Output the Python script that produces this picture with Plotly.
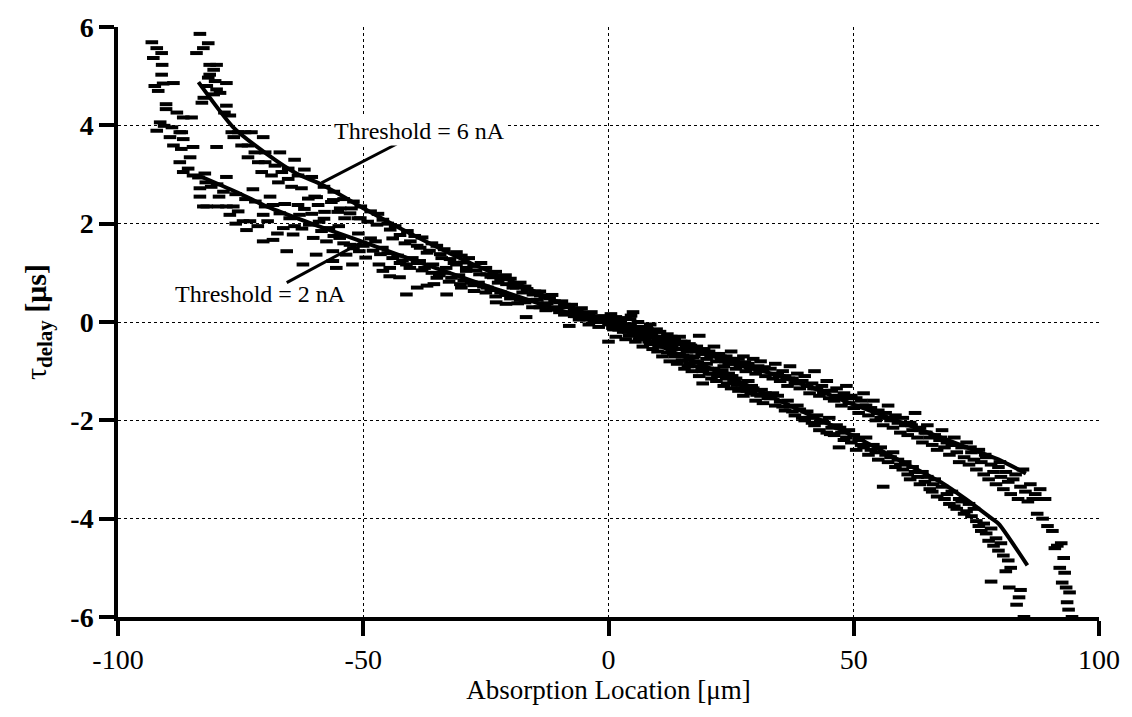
import plotly.graph_objects as go

# ---- fitted curves ----
line_6nA_x = [-83.6, -76.5, -69.7, -63.6, -58.2, -49.5, -41.2, -29.7, -16.1, -8.6, 0.0,
              13.0, 26.7, 32.8, 50.0, 60.0, 68.1, 72.8, 78.3, 79.6, 85.4]
line_6nA_y = [4.88, 3.96, 3.42, 3.02, 2.78, 2.29, 1.84, 1.27, 0.67, 0.33, 0.0,
              -0.6, -1.21, -1.5, -2.32, -2.85, -3.28, -3.6, -4.01, -4.11, -4.95]

line_2nA_x = [-83.6, -76.0, -69.7, -60.0, -49.5, -36.5, -22.9, -8.6, 0.0,
              13.0, 26.7, 40.0, 50.0, 60.0, 74.9, 80.0, 85.1]
line_2nA_y = [2.98, 2.65, 2.35, 1.98, 1.61, 1.14, 0.67, 0.2, 0.0,
              -0.4, -0.84, -1.28, -1.68, -2.05, -2.62, -2.82, -3.08]

# ---- measured points, threshold 6 nA (x [um], tau [us]) ----
points_6nA = [
    (-83.3, 5.86), (-81.6, 5.67), (-82.6, 5.57), (-84.0, 5.47), (-81.3, 5.23), (-79.9, 5.23),
    (-80.5, 5.13), (-81.3, 5.03), (-81.6, 4.97), (-80.2, 4.9), (-77.9, 4.86), (-81.9, 4.8),
    (-79.9, 4.73), (-80.5, 4.63), (-79.2, 4.66), (-82.5, 4.56), (-82.9, 4.46), (-77.9, 4.4),
    (-78.3, 4.26), (-77.2, 4.2), (-76.8, 3.86), (-76.4, 3.76), (-75.5, 3.86), (-74.1, 3.86),
    (-72.8, 3.86), (-70.4, 3.76), (-74.8, 3.59), (-73.5, 3.59), (-72.1, 3.45), (-70.0, 3.45),
    (-73.5, 3.35), (-71.4, 3.25), (-70.0, 3.25), (-68.0, 3.18), (-70.7, 3.05), (-68.7, 2.98),
    (-66.6, 3.05), (-65.3, 3.12), (-67.3, 2.84), (-65.3, 2.91), (-63.3, 2.98), (-64.6, 2.75),
    (-62.6, 2.72), (-61.2, 2.51), (-59.9, 2.55), (-63.3, 2.38), (-59.2, 2.38), (-56.5, 2.44),
    (-57.9, 2.24), (-55.2, 2.24), (-52.4, 2.31), (-53.8, 2.11), (-51.1, 2.11), (-49.1, 2.04),
    (-67.0, 3.45), (-64.0, 3.3), (-62.0, 3.1), (-60.5, 2.95), (-58.0, 2.75), (-56.0, 2.65),
    (-54.0, 2.5), (-52.0, 2.45), (-50.5, 2.35), (-48.5, 2.25), (-47.0, 2.2),
    (-59.5, 2.54), (-56.1, 2.48), (-54.7, 2.31), (-52.7, 2.21), (-50.6, 2.11), (-47.2, 1.98),
    (-44.5, 1.88), (-42.5, 1.77), (-40.4, 1.64), (-38.4, 1.51), (-37.0, 1.41), (-34.3, 1.38),
    (-32.3, 1.28), (-29.5, 1.21), (-27.5, 1.14), (-24.8, 0.97), (-22.0, 0.87), (-19.3, 0.77),
    (-16.6, 0.67), (-13.9, 0.54),
    (-46.0, 2.08), (-45.0, 2.0), (-43.5, 1.95), (-41.0, 1.85), (-39.5, 1.75), (-38.0, 1.72),
    (-36.0, 1.6), (-35.0, 1.55), (-33.5, 1.48), (-31.0, 1.42), (-30.0, 1.35), (-28.5, 1.3),
    (-26.0, 1.2), (-25.0, 1.1), (-23.0, 1.02), (-21.0, 0.95), (-20.0, 0.88), (-18.0, 0.8),
    (-17.0, 0.72), (-15.0, 0.62), (-13.0, 0.5), (-12.0, 0.48), (-11.0, 0.42), (-10.0, 0.4),
    (-9.0, 0.35), (-8.0, 0.3), (-7.0, 0.25), (-6.0, 0.2), (-5.0, 0.18), (-4.0, 0.15),
    (-3.0, 0.1), (-2.0, 0.08), (-1.0, 0.04),
    (-44.0, 1.7), (-41.5, 1.6), (-39.0, 1.55), (-36.5, 1.45), (-34.0, 1.3), (-31.5, 1.2),
    (-29.0, 1.1), (-27.0, 1.05), (-24.0, 0.92), (-22.5, 0.8), (-19.5, 0.7), (-17.5, 0.6),
    (-14.5, 0.45), (-12.5, 0.38), (-10.5, 0.3), (-8.5, 0.2), (-6.5, 0.12), (-4.5, 0.05),
    (-2.5, 0.0),
    (-14.0, 0.62), (-11.5, 0.55), (-9.5, 0.42), (-7.5, 0.35), (-5.5, 0.28), (-3.5, 0.2),
    (-1.5, 0.12),
    (0.0, -0.05), (0.5, 0.16), (1.0, -0.15), (1.5, -0.3), (2.0, 0.05), (2.5, -0.1), (3.0, -0.2),
    (3.5, -0.35), (4.0, -0.1), (4.6, 0.13), (4.4, 0.06), (5.0, -0.25), (5.5, -0.4), (6.0, -0.2),
    (6.5, -0.3), (7.0, -0.5), (7.5, -0.35), (8.0, -0.2), (8.5, -0.45), (9.0, -0.55), (9.5, -0.4),
    (10.0, -0.6), (10.5, -0.45), (11.0, -0.7), (11.5, -0.5), (12.0, -0.62), (12.5, -0.8),
    (13.0, -0.55), (13.5, -0.7), (14.0, -0.85), (14.5, -0.65), (15.0, -0.78), (15.5, -0.95),
    (16.0, -0.7), (16.5, -0.85), (17.0, -1.0), (17.5, -0.8), (18.0, -0.9), (18.5, -1.1),
    (19.0, -0.95), (19.2, -1.25), (20.0, -0.85), (20.5, -1.05), (21.0, -1.15), (21.5, -0.95),
    (22.0, -1.2), (22.5, -1.0), (23.0, -1.1), (23.5, -1.3), (24.0, -1.15), (24.5, -1.05),
    (25.0, -1.35), (25.5, -1.2), (26.0, -1.15), (26.5, -1.4), (27.0, -1.25), (27.5, -1.5),
    (28.0, -1.3), (28.5, -1.2), (29.0, -1.45), (29.5, -1.35), (30.0, -1.6), (30.5, -1.4),
    (31.0, -1.5), (31.5, -1.65), (32.0, -1.45),
    (0.2, 0.05), (1.2, 0.0), (2.2, -0.15), (3.2, -0.05), (4.2, -0.28), (5.2, -0.12),
    (6.2, -0.35), (7.2, -0.22), (8.2, -0.4), (9.2, -0.3), (10.2, -0.5), (11.2, -0.38),
    (12.2, -0.45), (13.2, -0.65), (14.2, -0.55), (15.2, -0.68), (16.2, -0.9), (17.2, -0.72),
    (18.2, -0.82), (19.2, -1.0), (20.2, -0.95), (21.2, -1.05), (22.2, -1.1), (23.2, -0.98),
    (24.2, -1.25), (25.2, -1.1), (26.2, -1.28), (27.2, -1.35), (28.2, -1.4), (29.2, -1.3),
    (30.2, -1.48), (31.2, -1.38), (32.5, -1.55), (33.5, -1.45),
    (33.0, -1.55), (34.0, -1.7), (34.5, -1.5), (35.0, -1.62), (36.0, -1.8), (36.5, -1.6),
    (37.0, -1.72), (38.0, -1.9), (38.5, -1.7), (39.0, -1.78), (40.0, -2.0), (40.5, -1.82),
    (41.0, -1.95), (42.0, -2.1), (42.5, -1.9), (43.0, -2.2), (44.0, -2.05), (44.5, -2.25),
    (45.0, -1.95), (45.5, -2.15), (46.0, -2.3), (46.5, -2.1), (47.0, -2.55), (47.5, -2.25),
    (48.0, -2.4), (49.0, -2.2), (49.5, -2.45), (50.0, -2.3), (50.5, -2.6), (51.0, -2.4),
    (52.0, -2.55), (52.5, -2.35), (53.0, -2.7), (54.0, -2.5), (54.5, -2.65), (55.0, -2.8),
    (55.5, -2.55), (56.0, -3.35), (56.5, -2.7), (57.0, -2.85), (58.0, -2.65), (58.5, -2.95),
    (59.0, -2.8), (60.0, -3.0), (60.5, -2.85), (61.0, -3.1), (61.5, -3.2), (62.0, -2.95),
    (63.0, -3.15), (63.5, -3.3), (64.0, -3.05), (64.5, -3.25), (65.0, -3.15), (65.5, -3.4),
    (66.0, -3.45), (66.5, -3.2), (67.0, -3.55), (68.0, -3.35), (68.5, -3.6), (69.0, -3.5),
    (69.5, -3.7), (70.0, -3.45), (70.5, -3.75), (71.0, -3.8), (72.0, -3.65), (72.5, -3.9),
    (73.0, -3.85), (74.0, -3.95), (74.5, -3.8), (75.0, -4.05), (75.5, -4.15), (76.0, -4.25),
    (76.5, -4.1), (77.0, -4.3), (77.5, -4.45), (78.0, -4.2), (78.5, -4.55), (79.0, -4.4),
    (79.5, -4.65), (80.0, -4.5), (80.5, -4.75), (81.0, -5.07), (81.5, -4.85), (81.7, -5.4),
    (82.0, -5.0), (83.7, -5.6), (83.2, -5.75), (84.7, -6.0), (84.0, -5.45), (78.0, -5.28),
    (35.5, -1.72), (37.5, -1.82), (39.5, -1.95), (41.5, -2.05), (43.5, -2.0), (45.2, -2.28),
    (47.2, -2.15), (48.5, -2.35), (51.5, -2.5), (53.5, -2.6), (57.5, -2.75), (59.5, -2.9),
    (62.5, -3.05), (66.2, -3.3), (71.5, -3.6), (73.5, -3.7),
]

# ---- measured points, threshold 2 nA ----
points_2nA = [
    (-93.1, 5.69), (-92.1, 5.57), (-92.8, 5.37), (-91.1, 5.47), (-91.0, 5.23), (-91.1, 5.03),
    (-92.5, 4.8), (-91.8, 4.7), (-90.8, 4.85), (-88.7, 4.86), (-90.2, 4.43), (-90.2, 4.33),
    (-88.0, 4.26), (-86.7, 4.16), (-85.0, 4.16), (-91.4, 4.06), (-90.6, 3.99), (-92.1, 3.89),
    (-89.0, 3.96), (-87.4, 3.86), (-87.0, 3.86), (-89.4, 3.76), (-86.7, 3.72), (-88.7, 3.59),
    (-87.1, 3.52), (-84.7, 3.56), (-79.9, 3.56), (-87.4, 3.25), (-85.3, 3.35), (-85.7, 3.12),
    (-86.7, 3.05), (-84.7, 2.98), (-83.6, 2.94), (-82.3, 3.02), (-82.1, 2.84), (-83.3, 2.72),
    (-79.8, 2.8), (-83.3, 2.55), (-77.9, 2.95), (-82.6, 2.35), (-81.9, 2.35), (-79.6, 2.35),
    (-79.4, 2.55), (-77.9, 2.35), (-76.5, 2.35), (-77.2, 2.18), (-75.5, 2.25), (-73.8, 1.87),
    (-74.5, 2.05), (-73.1, 2.05), (-70.4, 1.64), (-68.4, 1.67), (-65.6, 1.44), (-62.3, 1.17),
    (-55.5, 1.1), (-44.6, 0.93),
    (-81.0, 2.75), (-78.5, 2.65), (-76.0, 2.6), (-74.0, 2.5), (-72.0, 2.45), (-70.0, 2.35),
    (-68.4, 2.38), (-70.4, 2.18), (-67.0, 2.21), (-65.0, 2.11), (-63.0, 2.18), (-61.0, 1.98),
    (-59.0, 2.04), (-57.0, 1.91), (-66.3, 1.91), (-64.3, 1.78), (-60.2, 1.71), (-57.5, 1.64),
    (-54.8, 1.71), (-52.7, 1.57), (-56.2, 1.44), (-53.5, 1.37), (-50.8, 1.44), (-59.6, 1.37),
    (-49.5, 1.31), (-56.2, 1.24), (-46.8, 1.17), (-52.2, 1.17), (-46.1, 1.51), (-47.5, 1.64),
    (-72.5, 2.7), (-69.0, 2.55), (-66.0, 2.4), (-62.0, 2.3), (-58.0, 2.1), (-55.0, 1.95),
    (-51.0, 1.8), (-48.5, 1.7),
    (-60.5, 2.2), (-58.5, 1.85), (-56.0, 1.75), (-54.0, 1.6), (-52.0, 1.5), (-50.0, 1.55),
    (-48.0, 1.45), (-46.5, 1.38), (-44.0, 1.3), (-42.5, 1.2), (-40.5, 1.1), (-38.0, 1.05),
    (-35.0, 0.9), (-32.5, 0.82), (-30.0, 0.7), (-27.5, 0.75), (-25.0, 0.6), (-23.0, 0.52),
    (-20.0, 0.48), (-18.5, 0.38), (-76.0, 2.0), (-71.5, 1.95), (-69.5, 2.05), (-67.5, 1.8),
    (-64.0, 1.95), (-62.5, 1.9),
    (-41.2, 0.56), (-33.0, 0.56), (-39.0, 0.7), (-37.0, 0.74), (-35.6, 0.77), (-30.2, 0.77),
    (-27.4, 0.63), (-24.7, 0.7), (-22.9, 0.4), (-20.9, 0.37), (-16.8, 0.1), (-15.5, 0.3),
    (-12.8, 0.24), (-46.0, 1.04), (-44.6, 1.1), (-42.6, 0.91), (-41.2, 1.17), (-38.5, 1.24),
    (-35.8, 1.17), (-33.1, 1.1), (-31.0, 1.17), (-29.0, 1.04), (-26.3, 0.97), (-23.5, 0.91),
    (-20.8, 0.77), (-18.8, 0.7), (-15.4, 0.56),
    (-45.0, 1.4), (-43.0, 1.35), (-42.0, 1.25), (-40.0, 1.3), (-39.0, 1.2), (-37.5, 1.1),
    (-36.0, 1.0), (-34.5, 0.95), (-33.5, 1.0), (-32.0, 0.9), (-30.5, 0.95), (-29.5, 0.85),
    (-28.0, 0.8), (-26.5, 0.8), (-25.5, 0.72), (-24.0, 0.65), (-22.0, 0.6), (-21.0, 0.55),
    (-19.5, 0.5), (-18.0, 0.45), (-17.0, 0.4), (-16.0, 0.45), (-14.0, 0.3), (-13.0, 0.35),
    (-11.5, 0.25), (-10.0, 0.2), (-9.0, 0.15), (-8.0, -0.08), (-7.0, 0.12), (-6.0, 0.05),
    (-5.0, 0.1), (-4.0, -0.05), (-3.0, 0.02), (-2.0, -0.1), (-1.0, 0.0),
    (0.0, -0.4), (0.5, 0.05), (1.0, -0.05), (1.5, 0.1), (2.0, -0.15), (2.5, 0.0), (3.0, -0.1),
    (3.5, 0.08), (4.0, -0.2), (4.5, -0.05), (5.0, 0.2), (5.5, -0.15), (6.0, 0.0), (6.5, -0.25),
    (7.0, -0.1), (7.5, -0.3), (8.0, -0.15), (8.5, -0.05), (9.0, -0.3), (9.5, -0.2), (10.0, -0.35),
    (10.5, -0.2), (11.0, -0.3), (11.5, -0.45), (12.0, -0.25), (12.5, -0.4), (13.0, -0.5),
    (13.5, -0.35), (14.0, -0.45), (14.5, -0.3), (15.0, -0.55), (15.5, -0.4), (16.0, -0.6),
    (16.5, -0.45), (17.0, -0.55), (17.5, -0.7), (18.0, -0.5), (18.5, -0.28), (19.0, -0.65),
    (19.5, -0.55), (20.0, -0.75), (20.5, -0.6), (21.0, -0.7), (21.5, -0.5), (22.0, -0.8),
    (22.5, -0.65), (23.0, -0.75), (23.5, -0.9), (24.0, -0.7), (24.5, -0.85), (25.0, -0.6),
    (25.5, -0.8), (26.0, -0.95), (26.5, -0.75), (27.0, -0.9), (27.5, -0.7), (28.0, -1.0),
    (28.5, -0.85), (29.0, -0.95), (29.5, -0.75), (30.0, -1.05), (30.5, -0.9), (31.0, -0.8),
    (31.5, -1.0), (32.0, -1.1),
    (-0.5, 0.1), (0.8, -0.12), (1.8, 0.0), (2.8, -0.08), (3.8, -0.05), (4.8, -0.15),
    (5.8, -0.1), (6.8, -0.2), (7.8, -0.12), (8.8, -0.25), (9.8, -0.15), (10.8, -0.35),
    (11.8, -0.3), (12.8, -0.3), (13.8, -0.45), (14.8, -0.4), (15.8, -0.5), (16.8, -0.48),
    (17.8, -0.6), (18.8, -0.58), (19.8, -0.62), (20.8, -0.7), (21.8, -0.65), (22.8, -0.7),
    (23.8, -0.8), (24.8, -0.75), (25.8, -0.85), (26.8, -0.88), (27.8, -0.82), (28.8, -0.92),
    (29.8, -0.95), (30.8, -1.0), (31.8, -0.92),
    (33.0, -0.95), (33.5, -1.15), (34.0, -0.85), (34.5, -1.05), (35.0, -1.2), (35.5, -1.0),
    (36.0, -1.1), (36.5, -1.3), (37.0, -0.9), (37.5, -1.15), (38.0, -1.25), (38.5, -1.05),
    (39.0, -1.35), (39.5, -1.2), (40.0, -1.1), (40.5, -1.3), (41.0, -1.45), (41.5, -1.25),
    (42.0, -1.0), (42.5, -1.35), (43.0, -1.5), (43.5, -1.3), (44.0, -1.4), (44.5, -1.2),
    (45.0, -1.55), (45.5, -1.4), (46.0, -1.6), (46.5, -1.35), (47.0, -1.5), (47.5, -1.7),
    (48.0, -1.45), (48.5, -1.3), (49.0, -1.65), (49.5, -1.5), (50.0, -1.75), (50.5, -1.55),
    (51.0, -1.85), (51.5, -1.6), (52.0, -1.45), (52.5, -1.7), (53.0, -1.9), (53.5, -1.75),
    (54.0, -1.6), (54.5, -2.0), (55.0, -1.8), (55.5, -1.95), (56.0, -2.1), (56.5, -1.85),
    (57.0, -1.7), (57.5, -2.0), (58.0, -2.15), (58.5, -1.9), (59.0, -2.05), (59.5, -2.25),
    (60.0, -1.95), (60.5, -2.1), (61.0, -2.3), (61.5, -2.05), (62.0, -2.2), (62.5, -1.85),
    (63.0, -2.35), (63.5, -2.15), (64.0, -2.45), (64.5, -2.25), (65.0, -2.1), (65.5, -2.35),
    (66.0, -2.5), (66.5, -2.3), (67.0, -2.6), (67.5, -2.4), (68.0, -2.2), (68.5, -2.55),
    (69.0, -2.45), (69.5, -2.7), (70.0, -2.5), (70.5, -2.35), (71.0, -2.65), (71.5, -2.85),
    (72.0, -2.55), (72.5, -2.75), (73.0, -2.45), (73.5, -2.9), (74.0, -2.65), (74.5, -2.8),
    (75.0, -3.0), (75.5, -2.6), (76.0, -2.85), (76.5, -3.1), (77.0, -2.75), (77.5, -3.2),
    (78.0, -2.9), (78.5, -3.05), (79.0, -3.3), (79.5, -2.95), (80.0, -3.15), (80.5, -3.4),
    (81.0, -3.05), (81.5, -3.25), (82.0, -3.5), (82.5, -3.2), (83.0, -3.1), (83.5, -3.6),
    (84.0, -3.35), (84.5, -3.0), (85.0, -3.45), (85.5, -3.65), (86.0, -3.3), (86.5, -3.6),
    (87.0, -3.5), (87.4, -3.9), (88.0, -3.4), (88.5, -4.0), (89.0, -3.6), (92.3, -4.5),
    (91.0, -4.6), (91.5, -4.55), (92.8, -4.8), (92.0, -5.0), (93.0, -5.1), (92.5, -5.3),
    (93.3, -5.4), (94.0, -5.5), (93.5, -5.7), (94.5, -6.0), (93.8, -5.85), (90.5, -4.25),
    (89.5, -4.15),
    (34.8, -1.1), (36.8, -1.15), (38.8, -1.2), (41.8, -1.35), (43.8, -1.45), (46.8, -1.55),
    (48.8, -1.55), (51.8, -1.7), (54.8, -1.85), (57.8, -1.95), (61.8, -2.1), (64.8, -2.25),
    (67.8, -2.35), (70.8, -2.5), (73.8, -2.55), (76.8, -2.7), (79.8, -2.85),
]

x_ticks = [-100, -50, 0, 50, 100]
y_ticks = [-6, -4, -2, 0, 2, 4, 6]

SERIF = "Liberation Serif"

fig = go.Figure()

marker_style = dict(symbol="line-ew", size=9, color="black",
                    line=dict(color="black", width=4))

for pts, name in [(points_6nA, "Threshold = 6 nA data"), (points_2nA, "Threshold = 2 nA data")]:
    fig.add_trace(go.Scatter(
        x=[p[0] for p in pts], y=[p[1] for p in pts], mode="markers",
        marker=marker_style, name=name, showlegend=False))

fig.add_trace(go.Scatter(x=line_6nA_x, y=line_6nA_y, mode="lines",
                         line=dict(color="black", width=4, shape="spline", smoothing=0.6),
                         name="Threshold = 6 nA", showlegend=False))
fig.add_trace(go.Scatter(x=line_2nA_x, y=line_2nA_y, mode="lines",
                         line=dict(color="black", width=4, shape="spline", smoothing=0.6),
                         name="Threshold = 2 nA", showlegend=False))

# annotation texts + leader lines
fig.add_annotation(x=-38.5, y=3.89, text="Threshold = 6 nA", showarrow=False,
                   font=dict(family=SERIF, size=24, color="black"), bgcolor="white")
fig.add_annotation(x=-71.0, y=0.56, text="Threshold = 2 nA", showarrow=False,
                   font=dict(family=SERIF, size=24, color="black"))
fig.add_shape(type="line", x0=-43.2, y0=3.62, x1=-58.5, y1=2.83, xref="x", yref="y",
              line=dict(color="black", width=3))
fig.add_shape(type="line", x0=-65.6, y0=0.8, x1=-50.0, y1=1.64, xref="x", yref="y",
              line=dict(color="black", width=3))

fig.update_layout(
    width=1132, height=717,
    margin=dict(l=118, r=32, t=22, b=100),
    paper_bgcolor="white", plot_bgcolor="white",
    font=dict(family=SERIF, color="black", size=26),
    showlegend=False,
)
fig.update_xaxes(
    range=[-100, 100], tickvals=x_ticks, ticktext=[str(v) for v in x_ticks],
    showline=True, linecolor="black", linewidth=3.5,
    ticks="outside", ticklen=15, tickwidth=3.5, tickcolor="black",
    showgrid=True, gridcolor="black", gridwidth=1.3, griddash="dot",
    zeroline=False, tickfont=dict(family=SERIF, size=28),
    title=dict(text="Absorption Location [μm]", font=dict(family=SERIF, size=27), standoff=6),
)
fig.update_yaxes(
    range=[-6, 6], tickvals=y_ticks, ticktext=[str(v) for v in y_ticks],
    showline=True, linecolor="black", linewidth=3.5,
    ticks="outside", ticklen=15, tickwidth=3.5, tickcolor="black",
    showgrid=True, gridcolor="black", gridwidth=1.3, griddash="dot",
    zeroline=False, tickfont=dict(family=SERIF, size=28, weight="bold"),
    title=dict(text="τ<sub><b>delay</b></sub> <b>[μs]</b>", font=dict(family=SERIF, size=30),
               standoff=16),
)

fig.write_html("out.html")
